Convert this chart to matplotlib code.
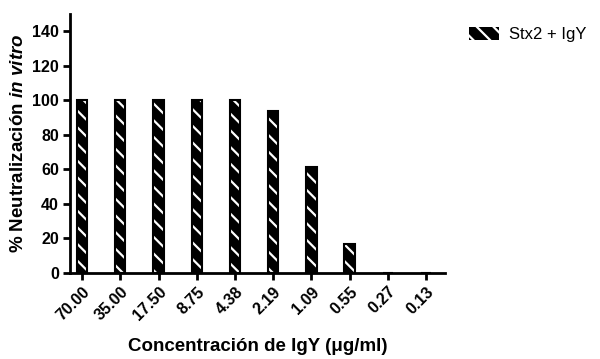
import matplotlib.pyplot as plt
import numpy as np

plt.rcParams['font.family'] = 'Liberation Sans'
plt.rcParams['font.weight'] = 'bold'
plt.rcParams['mathtext.fontset'] = 'custom'
plt.rcParams['mathtext.bfit'] = 'Liberation Sans:italic:bold'
plt.rcParams['mathtext.it'] = 'Liberation Sans:italic'
plt.rcParams['hatch.linewidth'] = 1.6

# data
concentraciones = ["70.00", "35.00", "17.50", "8.75", "4.38", "2.19", "1.09", "0.55", "0.27", "0.13"]
neutralizacion = [100, 100, 100, 100, 100, 94, 61.5, 17, 0, 0]
serie = "Stx2 + IgY"

fig = plt.figure(figsize=(6, 3.59), dpi=100)
ax = fig.add_axes([0.117, 0.24, 0.625, 0.721])

x = np.arange(len(concentraciones))
bars = ax.bar(x, neutralizacion, width=0.27, color="black", edgecolor="white",
              hatch="\\\\", linewidth=0, label=serie)
ax.bar(x, neutralizacion, width=0.27, fill=False, edgecolor="black", linewidth=1.5)

ax.set_xlim(-0.31, 9.5)
ax.set_ylim(0, 150)
ax.set_yticks(range(0, 141, 20))
ax.set_xticks(x)
ax.set_xticklabels(concentraciones, rotation=45, ha="right", rotation_mode="anchor",
                   fontsize=11.5)
ax.tick_params(axis="y", labelsize=11.5)
ax.tick_params(direction="out", length=5, width=2, pad=3)
for s in ["top", "right"]:
    ax.spines[s].set_visible(False)
for s in ["left", "bottom"]:
    ax.spines[s].set_linewidth(2)

ax.set_xlabel("Concentración de IgY (μg/ml)", fontsize=13.5, fontweight="bold", labelpad=11)
ax.set_ylabel(r"% Neutralización $\mathbfit{in\ vitro}$", fontsize=13.5, fontweight="bold",
              labelpad=4)

leg = fig.legend(loc="upper left", bbox_to_anchor=(0.782, 0.925), frameon=False,
                 borderpad=0, borderaxespad=0,
                 fontsize=12, handlelength=1.8, handleheight=0.8, handletextpad=0.6)
for t in leg.get_texts():
    t.set_fontweight("normal")

plt.savefig("out.png")
